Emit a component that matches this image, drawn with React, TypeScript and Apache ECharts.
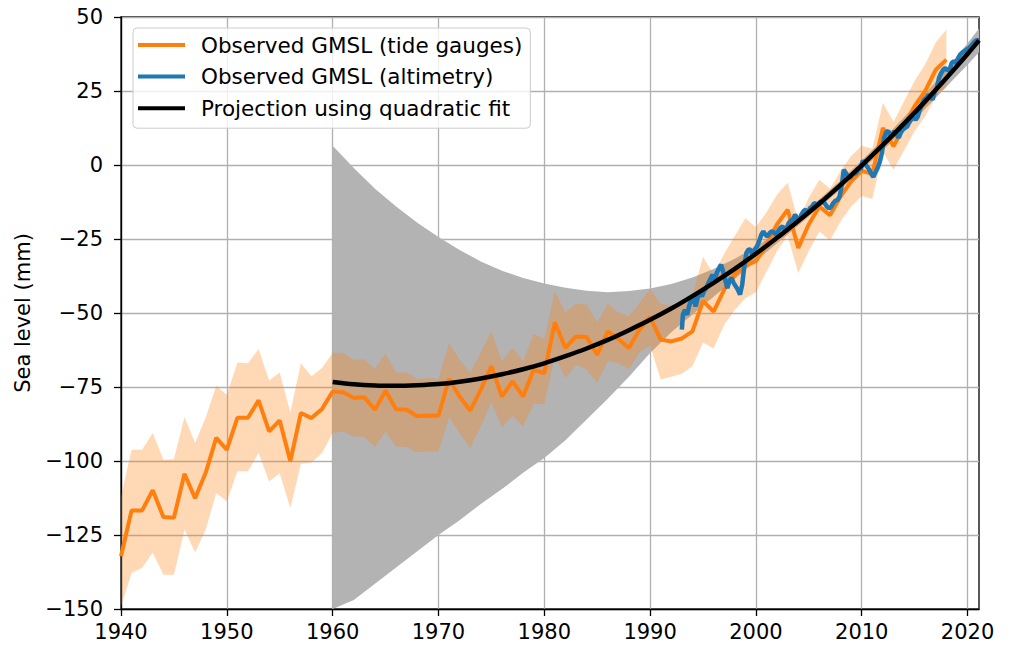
import React, { useEffect, useRef } from "react";
import * as echarts from "echarts";

// ---------------- DATA ----------------
const tideYears = Array.from({ length: 79 }, (_, i) => 1940 + i);
const tideValues = [
  -132.2, -116.7, -116.7, -109.9, -118.9, -119.2, -104.3, -112.6, -104.0, -92.2,
  -96.2, -85.4, -85.4, -79.5, -90.0, -86.3, -100.1, -83.8, -85.5, -82.4,
  -76.5, -76.8, -78.7, -78.5, -82.7, -76.3, -82.5, -82.7, -84.9, -84.6,
  -84.7, -72.3, -78.2, -83.0, -75.9, -68.0, -78.2, -73.1, -78.2, -69.2,
  -70.3, -53.2, -61.8, -57.9, -58.1, -64.1, -56.2, -58.8, -61.8, -55.6,
  -51.4, -59.0, -59.6, -58.6, -56.2, -46.0, -49.5, -42.1, -37.0, -34.0,
  -32.5, -27.0, -20.0, -15.1, -28.0, -20.0, -14.0, -17.0, -10.6, -5.5,
  -2.0, -3.0, 12.5, 6.3, 13.0, 20.0, 25.0, 32.2, 35.6,
];
const tideUpper = [
  -112.0, -96.2, -96.2, -90.5, -99.6, -99.4, -85.1, -93.9, -85.4, -74.6,
  -77.6, -66.7, -67.0, -62.2, -72.8, -70.1, -83.6, -67.0, -71.4, -68.6,
  -63.4, -63.5, -65.8, -65.6, -68.9, -63.7, -70.1, -70.1, -72.3, -72.0,
  -72.3, -60.1, -65.8, -70.3, -63.3, -56.2, -66.3, -61.8, -66.3, -57.0,
  -58.8, -42.7, -49.8, -46.9, -47.1, -53.2, -46.9, -49.8, -51.1, -46.6,
  -41.9, -47.0, -47.5, -46.5, -44.0, -31.0, -37.0, -30.0, -24.0, -18.0,
  -21.0, -16.0, -10.0, -6.0, -19.0, -11.0, -5.0, -8.0, -2.0, 3.0,
  6.5, 5.5, 21.0, 14.5, 21.5, 28.5, 34.0, 41.5, 45.7,
];
const tideLower = [
  -149.1, -137.8, -136.1, -130.9, -138.4, -138.4, -123.2, -130.9, -123.2, -110.8,
  -113.6, -103.5, -103.5, -97.3, -106.9, -104.1, -115.9, -100.9, -100.5, -97.3,
  -90.5, -90.0, -91.7, -91.9, -95.3, -90.0, -95.1, -95.3, -97.1, -96.8,
  -96.8, -85.1, -90.5, -95.6, -88.3, -80.2, -88.5, -84.8, -88.3, -80.6,
  -80.9, -64.7, -72.0, -67.5, -69.0, -73.6, -66.3, -66.9, -69.0, -63.3,
  -61.0, -72.5, -71.5, -70.5, -68.0, -60.0, -62.0, -54.0, -49.0, -45.0,
  -43.0, -36.0, -29.0, -24.0, -36.5, -29.0, -22.5, -25.5, -19.0, -14.0,
  -10.5, -11.5, 4.5, -1.6, 5.0, 11.5, 16.5, 23.0, 26.5,
];

const altYears = [
  1993.0, 1993.1, 1993.3, 1993.5, 1993.7, 1993.9, 1994.1, 1994.3, 1994.5, 1994.7, 1994.9,
  1995.1, 1995.3, 1995.5, 1995.7, 1995.9, 1996.1, 1996.3, 1996.5, 1996.7, 1996.9,
  1997.1, 1997.3, 1997.5, 1997.7, 1997.9, 1998.1, 1998.3, 1998.5, 1998.7, 1998.9,
  1999.1, 1999.3, 1999.5, 1999.7, 1999.9, 2000.1, 2000.3, 2000.5, 2000.7, 2000.9,
  2001.1, 2001.3, 2001.5, 2001.7, 2001.9, 2002.1, 2002.3, 2002.5, 2002.7, 2002.9,
  2003.1, 2003.3, 2003.5, 2003.7, 2003.9, 2004.1, 2004.3, 2004.5, 2004.7, 2004.9,
  2005.1, 2005.3, 2005.5, 2005.7, 2005.9, 2006.1, 2006.3, 2006.5, 2006.7, 2006.9,
  2007.1, 2007.3, 2007.5, 2007.7, 2007.9, 2008.1, 2008.3, 2008.5, 2008.7, 2008.9,
  2009.1, 2009.3, 2009.5, 2009.7, 2009.9, 2010.1, 2010.3, 2010.5, 2010.7, 2010.9,
  2011.1, 2011.3, 2011.5, 2011.7, 2011.9, 2012.1, 2012.3, 2012.5, 2012.7, 2012.9,
  2013.1, 2013.3, 2013.5, 2013.7, 2013.9, 2014.1, 2014.3, 2014.5, 2014.7, 2014.9,
  2015.1, 2015.3, 2015.5, 2015.7, 2015.9, 2016.1, 2016.3, 2016.5, 2016.7, 2016.9,
  2017.1, 2017.3, 2017.5, 2017.7, 2017.9, 2018.1, 2018.3, 2018.5, 2018.7, 2018.9,
  2019.1, 2019.3, 2019.5, 2019.7, 2019.9, 2020.1, 2020.3, 2020.5, 2020.7, 2020.9, 2021.0,
];
const altValues = [
  -55.6, -50.5, -49.0, -50.6, -47.5, -45.5, -44.4, -47.8, -44.8, -43.2, -44.4,
  -42.5, -41.6, -39.9, -38.5, -37.1, -38.8, -36.5, -34.9, -33.7, -36.0,
  -38.8, -41.6, -39.0, -38.2, -39.9, -41.0, -42.2, -43.8, -40.5, -34.3,
  -29.7, -28.5, -28.6, -30.8, -28.5, -27.5, -25.8, -23.6, -22.4, -23.6,
  -24.1, -23.0, -22.4, -22.8, -23.5, -22.4, -21.3, -20.7, -21.8, -21.3,
  -19.6, -18.8, -18.5, -16.8, -18.0, -18.5, -16.8, -15.6, -15.1, -16.2,
  -14.6, -14.0, -12.9, -13.2, -13.5, -12.3, -12.6, -12.9, -14.0, -14.6,
  -14.2, -12.9, -12.1, -11.8, -10.7, -7.2, -1.6, -2.7, -3.8, -4.4,
  -3.3, -2.9, -2.7, -1.0, -1.5, 1.5, 0.5, -0.5, -1.5, -3.0,
  -4.0, -2.5, -1.0, 1.0, 4.0, 9.0, 11.0, 11.5, 10.2, 10.0,
  11.5, 10.2, 9.2, 11.0, 12.0, 12.5, 13.0, 14.5, 15.5, 16.0,
  15.3, 16.4, 18.7, 20.5, 22.1, 22.6, 23.7, 23.0, 22.1, 24.8,
  26.0, 29.4, 31.0, 32.2, 32.8, 32.0, 32.2, 34.5, 35.0, 34.5,
  36.0, 37.3, 38.0, 38.5, 39.0, 39.5, 40.1, 41.0, 41.8, 42.3, 42.0,
];

const fitYears = [
  1960, 1962, 1964, 1966, 1968, 1970, 1972, 1974, 1976, 1978,
  1980, 1982, 1984, 1986, 1988, 1990, 1992, 1994, 1996, 1998,
  2000, 2002, 2004, 2006, 2008, 2010, 2012, 2014, 2016, 2018, 2020, 2021.08,
];
const fitValues = [
  -73.3, -74.1, -74.5, -74.6, -74.4, -74.0, -73.2, -72.1, -70.7, -69.0,
  -67.0, -64.6, -62.0, -59.1, -55.8, -52.3, -48.5, -44.3, -39.8, -35.1,
  -30.0, -24.6, -18.9, -13.0, -6.7, -0.1, 6.8, 14.0, 21.5, 29.4, 37.5, 42.1,
];
const fitUpper = [
  6.5, -1.0, -8.0, -14.0, -19.5, -24.3, -28.7, -32.6, -35.7, -38.2,
  -40.0, -41.5, -42.5, -43.0, -42.6, -41.7, -40.2, -38.0, -35.1, -31.7,
  -27.6, -22.8, -17.4, -11.6, -5.2, 1.5, 8.6, 16.1, 24.0, 32.4, 41.1, 46.1,
];
const fitLower = [
  -152.5, -147.0, -141.5, -136.0, -130.5, -125.0, -120.0, -114.5, -109.5, -104.0,
  -99.0, -93.0, -86.0, -79.0, -71.5, -63.5, -56.5, -50.5, -44.5, -38.5,
  -32.4, -26.4, -20.4, -14.4, -8.2, -1.7, 5.0, 11.9, 19.0, 26.4, 33.9, 38.1,
];

const xTicks = [1940, 1950, 1960, 1970, 1980, 1990, 2000, 2010, 2020];
const yTicks = [-150, -125, -100, -75, -50, -25, 0, 25, 50];

const seriesNames = [
  "Observed GMSL (tide gauges)",
  "Observed GMSL (altimetry)",
  "Projection using quadratic fit",
];

const FONT = "DejaVu Sans";
const FS = 21;

function fmt(v: number) {
  return v < 0 ? "\u2212" + Math.abs(v) : String(v);
}

function band(name: string, xs: number[], up: number[], lo: number[], fill: string, z: number) {
  return {
    type: "custom",
    name,
    coordinateSystem: "cartesian2d",
    silent: true,
    z,
    clip: true,
    data: [[xs[0], up[0]]],
    renderItem: (params: any, api: any) => {
      const pts: number[][] = [];
      for (let i = 0; i < xs.length; i++) pts.push(api.coord([xs[i], up[i]]));
      for (let i = xs.length - 1; i >= 0; i--) pts.push(api.coord([xs[i], lo[i]]));
      const cs = params.coordSys;
      const clipped = (echarts.graphic as any).clipPointsByRect(pts, {
        x: cs.x,
        y: cs.y,
        width: cs.width,
        height: cs.height,
      });
      return {
        type: "polygon",
        shape: { points: clipped },
        style: { fill, stroke: "none" },
      };
    },
  };
}

export default function App() {
  const ref = useRef<HTMLDivElement>(null);
  useEffect(() => {
    if (!ref.current) return;
    const chart = echarts.init(ref.current, undefined, { renderer: "svg" });
    const option: any = {
      animation: false,
      backgroundColor: "#ffffff",
      textStyle: { fontFamily: FONT },
      grid: {
        left: 121,
        right: 30,
        top: 17,
        bottom: 38,
        show: true,
        borderColor: "#000",
        borderWidth: 1.3,
        backgroundColor: "transparent",
      },
      legend: {
        orient: "vertical",
        left: 133,
        top: 28,
        z: 10,
        padding: [5, 8, 8, 5],
        itemWidth: 47,
        itemHeight: 4,
        itemGap: 7.6,
        icon: "rect",
        backgroundColor: "rgba(255,255,255,0.8)",
        borderColor: "#cccccc",
        borderWidth: 1,
        borderRadius: 4,
        textStyle: {
          fontFamily: FONT,
          fontSize: 21.5,
          color: "#000",
          lineHeight: 24,
          padding: [0, 0, 0, 11],
        },
        data: seriesNames,
      },
      xAxis: {
        type: "value",
        min: 1940,
        max: 2021.08,
        interval: 10,
        axisLine: { show: true, onZero: false, lineStyle: { color: "#000", width: 1.3 } },
        axisTick: { show: true, length: 7, lineStyle: { color: "#000", width: 1.3 }, customValues: xTicks },
        axisLabel: {
          customValues: xTicks,
          color: "#000",
          fontFamily: FONT,
          fontSize: FS,
          margin: 12,
          formatter: (v: number) => fmt(v),
        },
        splitLine: { show: true, lineStyle: { color: "#b0b0b0", width: 1.3 } },
      },
      yAxis: {
        type: "value",
        min: -150,
        max: 50,
        interval: 25,
        name: "Sea level (mm)",
        nameLocation: "middle",
        nameGap: 88,
        nameTextStyle: { fontFamily: FONT, fontSize: FS, color: "#000" },
        axisLine: { show: true, onZero: false, lineStyle: { color: "#000", width: 1.3 } },
        axisTick: { show: true, length: 7, lineStyle: { color: "#000", width: 1.3 }, customValues: yTicks },
        axisLabel: {
          customValues: yTicks,
          color: "#000",
          fontFamily: FONT,
          fontSize: FS,
          margin: 18,
          formatter: (v: number) => fmt(v),
        },
        splitLine: { show: true, lineStyle: { color: "#b0b0b0", width: 1.3 } },
      },
      series: [
        band("fitBand", fitYears, fitUpper, fitLower, "#b3b3b3", 1),
        band("tideBand", tideYears, tideUpper, tideLower, "rgba(255,127,14,0.3)", 2),
        {
          type: "line",
          name: seriesNames[0],
          z: 3,
          showSymbol: false,
          symbol: "none",
          data: tideYears.map((y, i) => [y, tideValues[i]]),
          lineStyle: { color: "#ff7f0e", width: 4 },
          itemStyle: { color: "#ff7f0e" },
        },
        {
          type: "line",
          name: seriesNames[1],
          z: 4,
          showSymbol: false,
          symbol: "none",
          data: altYears.map((y, i) => [y, altValues[i]]),
          lineStyle: { color: "#1f77b4", width: 4.5 },
          itemStyle: { color: "#1f77b4" },
        },
        {
          type: "line",
          name: seriesNames[2],
          z: 5,
          showSymbol: false,
          symbol: "none",
          smooth: 0.3,
          data: fitYears.map((y, i) => [y, fitValues[i]]),
          lineStyle: { color: "#000000", width: 4.5 },
          itemStyle: { color: "#000000" },
        },
      ],
    };
    chart.setOption(option);
    return () => chart.dispose();
  }, []);
  return (
    <div
      ref={ref}
      style={{ position: "fixed", left: 0, top: 0, width: 1009, height: 647, background: "#fff" }}
    />
  );
}
